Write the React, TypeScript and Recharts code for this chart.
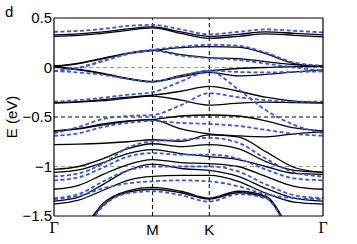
import React from 'react';
import { LineChart, Line, XAxis, YAxis, ReferenceLine } from 'recharts';

// k-path sample points: Γ(0) → M(1) → K(1.577) → Γ(2.732)
const kPoints = [0, 0.25, 0.5, 0.75, 1, 1.29, 1.577, 1.87, 2.15, 2.44, 2.732];
const xTicks = [0, 1, 1.577, 2.732];
const xTickLabels = ['Γ', 'M', 'K', 'Γ'];
const yTicks = [-1.5, -1, -0.5, 0, 0.5];

// black solid bands (eV)
const b01 = [0.33, 0.34, 0.36, 0.39, 0.41, 0.36, 0.315, 0.335, 0.36, 0.345, 0.33];
const b02 = [0.315, 0.325, 0.345, 0.375, 0.4, 0.345, 0.295, 0.315, 0.34, 0.325, 0.31];
const b03 = [0.01, 0.04, 0.09, 0.14, 0.17, 0.2, 0.21, 0.205, 0.14, 0.04, 0.01];
const b04 = [0.015, 0.045, 0.095, 0.145, 0.175, 0.13, 0.1, 0.09, 0.06, 0.03, 0.015];
const b05 = [0.01, -0.02, -0.06, -0.11, -0.14, -0.08, -0.035, -0.01, 0.0, 0.01, 0.01];
const b06 = [0.005, -0.025, -0.065, -0.115, -0.145, -0.095, -0.05, -0.085, -0.07, -0.045, -0.025];
const b07 = [-0.355, -0.345, -0.325, -0.3, -0.28, -0.24, -0.19, -0.24, -0.3, -0.34, -0.355];
const b08 = [-0.36, -0.35, -0.335, -0.31, -0.29, -0.33, -0.38, -0.36, -0.35, -0.355, -0.36];
const b09 = [-0.64, -0.615, -0.57, -0.54, -0.525, -0.49, -0.48, -0.49, -0.54, -0.61, -0.64];
const b10 = [-0.645, -0.62, -0.58, -0.545, -0.53, -0.62, -0.67, -0.69, -0.7, -0.67, -0.65];
const b11 = [-0.78, -0.775, -0.765, -0.75, -0.73, -0.745, -0.68, -0.7, -0.85, -1.01, -1.06];
const b12 = [-1.03, -1.0, -0.92, -0.82, -0.77, -0.8, -0.78, -0.82, -0.95, -1.04, -1.06];
const b13 = [-1.06, -1.035, -0.96, -0.87, -0.83, -0.87, -0.9, -0.93, -1.0, -1.07, -1.08];
const b14 = [-1.23, -1.19, -1.08, -0.98, -0.93, -0.96, -0.97, -1.0, -1.1, -1.2, -1.23];
const b15 = [-1.35, -1.31, -1.18, -1.04, -0.975, -1.02, -1.04, -1.1, -1.22, -1.32, -1.35];
const b16 = [-1.38, -1.34, -1.24, -1.14, -1.1, -1.09, -1.09, -1.15, -1.27, -1.36, -1.38];
const b17 = [-1.95, -1.7, -1.37, -1.245, -1.21, -1.25, -1.32, -1.25, -1.3, -1.72, -2.1];
const b18 = [-1.97, -1.72, -1.39, -1.26, -1.23, -1.265, -1.33, -1.265, -1.315, -1.74, -2.12];

// blue dashed bands (eV)
const c01 = [0.36, 0.37, 0.39, 0.42, 0.43, 0.385, 0.335, 0.36, 0.385, 0.37, 0.355];
const c02 = [-0.035, 0.0, 0.07, 0.14, 0.18, 0.21, 0.23, 0.22, 0.15, 0.05, 0.02];
const c03 = [-0.035, -0.005, 0.065, 0.135, 0.17, 0.12, 0.095, 0.075, 0.04, 0.0, -0.035];
const c04 = [-0.035, -0.05, -0.075, -0.115, -0.145, -0.085, -0.03, -0.045, -0.05, -0.045, -0.04];
const c05 = [-0.345, -0.33, -0.305, -0.275, -0.25, -0.14, -0.04, -0.22, -0.43, -0.58, -0.665];
const c06 = [-0.665, -0.6, -0.52, -0.49, -0.48, -0.38, -0.26, -0.3, -0.33, -0.345, -0.345];
const c07 = [-0.69, -0.665, -0.6, -0.56, -0.54, -0.56, -0.57, -0.59, -0.63, -0.67, -0.69];
const c08 = [-1.1, -1.07, -0.97, -0.81, -0.745, -0.73, -0.71, -0.76, -0.92, -1.06, -1.1];
const c09 = [-1.14, -1.11, -1.01, -0.9, -0.865, -0.88, -0.88, -0.92, -1.03, -1.12, -1.14];
const c10 = [-1.32, -1.28, -1.15, -1.04, -1.0, -1.0, -1.0, -1.05, -1.18, -1.29, -1.32];
const c11 = [-1.33, -1.3, -1.22, -1.17, -1.15, -1.14, -1.15, -1.2, -1.28, -1.32, -1.33];
const c12 = [-2.0, -1.74, -1.4, -1.27, -1.25, -1.29, -1.355, -1.28, -1.32, -1.75, -2.12];

const blackBands = [b01, b02, b03, b04, b05, b06, b07, b08, b09, b10, b11, b12, b13, b14, b15, b16, b17, b18];
const blueBands = [c01, c02, c03, c04, c05, c06, c07, c08, c09, c10, c11, c12];

const data = kPoints.map((k, i) => {
  const row: Record<string, number> = { k };
  blackBands.forEach((b, j) => { row['b' + j] = b[i]; });
  blueBands.forEach((b, j) => { row['c' + j] = b[i]; });
  return row;
});

const SANS = '"Liberation Sans", Arial, Helvetica, sans-serif';
const SERIF = '"Liberation Serif", "Times New Roman", serif';

const fmt = (v: number) => (v < 0 ? '\u2212' + String(Math.abs(v)) : String(v));

const YTick = (props: any) => {
  const { x, y, payload } = props;
  return (
    <text x={x - 2} y={y + 5} textAnchor="end" fontFamily={SANS} fontSize={15} fill="#000">
      {fmt(payload.value)}
    </text>
  );
};

const XTick = (props: any) => {
  const { x, y, payload } = props;
  const idx = xTicks.indexOf(payload.value);
  const label = xTickLabels[idx] ?? '';
  const serif = label === 'Γ';
  return (
    <text x={x} y={y + (serif ? 17 : 19)} textAnchor="middle" fontFamily={serif ? SERIF : SANS} fontSize={serif ? 16 : 15} fill="#000">
      {label}
    </text>
  );
};

export default function App() {
  return (
    <div style={{ position: 'absolute', left: 0, top: 0, width: 357, height: 244, background: '#fff' }}>
      <LineChart width={357} height={244} data={data} margin={{ top: 18, right: 34, left: 0, bottom: 0 }}>
        <XAxis
          dataKey="k"
          type="number"
          domain={[0, 2.732]}
          ticks={xTicks}
          interval={0}
          height={28}
          axisLine={false}
          tickLine={false}
          tickSize={0}
          tickMargin={0}
          allowDataOverflow
          tick={<XTick />}
        />
        <YAxis
          type="number"
          domain={[-1.5, 0.5]}
          ticks={yTicks}
          interval={0}
          width={54}
          axisLine={false}
          tickLine={false}
          tickSize={0}
          tickMargin={0}
          allowDataOverflow
          tick={<YTick />}
        />
        <ReferenceLine y={0} stroke="#999" strokeDasharray="4 3" strokeWidth={1.2} />
        <ReferenceLine y={-0.5} stroke="#000" strokeDasharray="4 3" strokeWidth={1} />
        <ReferenceLine y={-1} stroke="#999" strokeDasharray="4 3" strokeWidth={1.2} />
        <ReferenceLine x={1} stroke="#000" strokeDasharray="4 3" strokeWidth={1} />
        <ReferenceLine x={1.577} stroke="#000" strokeDasharray="4 3" strokeWidth={1} />
        {blackBands.map((_, j) => (
          <Line
            key={'b' + j}
            dataKey={'b' + j}
            type="monotone"
            stroke="#000"
            strokeWidth={1.3}
            dot={false}
            activeDot={false}
            isAnimationActive={false}
          />
        ))}
        {blueBands.map((_, j) => (
          <Line
            key={'c' + j}
            dataKey={'c' + j}
            type="monotone"
            stroke="#3556ee"
            strokeWidth={1.8}
            strokeDasharray="4 2.5"
            dot={false}
            activeDot={false}
            isAnimationActive={false}
          />
        ))}
        <ReferenceLine x={0} stroke="#000" strokeWidth={1.2} />
        <ReferenceLine x={2.732} stroke="#000" strokeWidth={1.2} />
        <ReferenceLine y={0.5} stroke="#000" strokeWidth={1.2} />
        <ReferenceLine y={-1.5} stroke="#000" strokeWidth={1.2} />
      </LineChart>
      <div style={{ position: 'absolute', left: 5, top: 4, fontFamily: SANS, fontSize: 15, lineHeight: '15px' }}>d</div>
      <svg width={30} height={244} style={{ position: 'absolute', left: 0, top: 0 }}>
        <text x={17} y={117} transform="rotate(-90 17 117)" textAnchor="middle" fontFamily={SANS} fontSize={15} fill="#000">
          E (eV)
        </text>
      </svg>
    </div>
  );
}
